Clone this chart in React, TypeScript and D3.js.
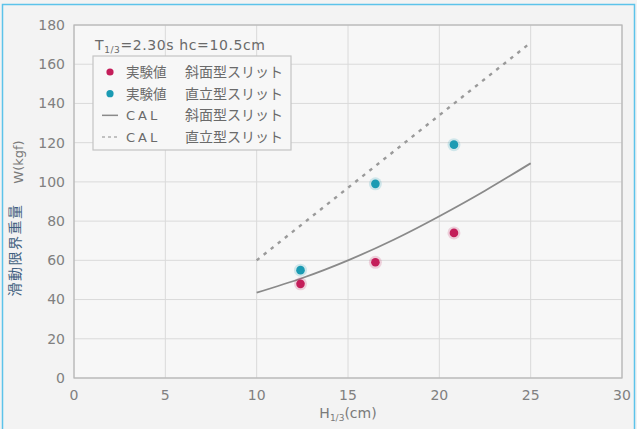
//@ts-nocheck
import React, {useEffect, useRef} from 'react';
import * as d3 from 'd3';

// experiment points (H1/3 cm, W kgf)
const obliqueExp = [
    {h: 12.4, w: 48},
    {h: 16.5, w: 59},
    {h: 20.8, w: 74}
];
const verticalExp = [
    {h: 12.4, w: 55},
    {h: 16.5, w: 99},
    {h: 20.8, w: 119}
];
// calculated curves
const obliqueCal = [
    {h: 10, w: 43.5},
    {h: 12.5, w: 51},
    {h: 15, w: 60},
    {h: 17.5, w: 70.5},
    {h: 20, w: 82.5},
    {h: 22.5, w: 95.5},
    {h: 25, w: 109.5}
];
const verticalCal = [
    {h: 10, w: 60},
    {h: 25, w: 171}
];
const xTicks = [0, 5, 10, 15, 20, 25, 30];
const yTicks = [0, 20, 40, 60, 80, 100, 120, 140, 160, 180];

const RED = '#c41e5a';
const CYAN = '#1b9bb3';
const GRAY = '#8a8a8a';

const App = () => {
    const svgRef = useRef(null);

    useEffect(() => {
        const svg = d3.select(svgRef.current);
        svg.selectAll('*').remove();

        const margin = {top: 25, right: 15, bottom: 51, left: 74};
        const width = 637 - margin.left - margin.right;
        const height = 429 - margin.top - margin.bottom;
        const font = "'DejaVu Sans', sans-serif";
        const jp = "'Noto Sans CJK JP', sans-serif";

        svg.append('rect').attr('width', 637).attr('height', 429).attr('fill', '#f3f3f3');
        // frame
        svg.append('path')
            .attr('d', 'M2.5,429 V4.5 H634.5 V429')
            .attr('fill', 'none')
            .attr('stroke', '#5cc3ea')
            .attr('stroke-width', 1.5);

        const x = d3.scaleLinear().domain([0, 30]).range([0, width]);
        const y = d3.scaleLinear().domain([0, 180]).range([height, 0]);

        const g = svg.append('g')
            .attr('transform', 'translate(' + margin.left + ',' + margin.top + ')');

        g.append('rect').attr('width', width).attr('height', height).attr('fill', '#f7f7f7');

        g.selectAll('line.vgrid')
            .data(xTicks)
            .enter().append('line')
            .attr('class', 'vgrid')
            .attr('x1', d => x(d)).attr('x2', d => x(d))
            .attr('y1', 0).attr('y2', height)
            .attr('stroke', '#dadada');
        g.selectAll('line.hgrid')
            .data(yTicks)
            .enter().append('line')
            .attr('class', 'hgrid')
            .attr('x1', 0).attr('x2', width)
            .attr('y1', d => y(d)).attr('y2', d => y(d))
            .attr('stroke', '#dadada');
        g.append('rect').attr('width', width).attr('height', height)
            .attr('fill', 'none').attr('stroke', '#b5b5b5').attr('stroke-width', 1.2);

        // tick labels
        g.selectAll('text.xt')
            .data(xTicks)
            .enter().append('text')
            .attr('x', d => x(d)).attr('y', height + 22)
            .attr('text-anchor', 'middle')
            .attr('font-family', font).attr('font-size', 14)
            .attr('fill', '#808080')
            .text(d => d);
        g.selectAll('text.yt')
            .data(yTicks)
            .enter().append('text')
            .attr('x', -9).attr('y', d => y(d)).attr('dy', '0.35em')
            .attr('text-anchor', 'end')
            .attr('font-family', font).attr('font-size', 14)
            .attr('fill', '#808080')
            .text(d => d);

        // x axis title
        const xt = g.append('text')
            .attr('x', x(15)).attr('y', height + 40)
            .attr('text-anchor', 'middle')
            .attr('font-family', font).attr('font-size', 14)
            .attr('fill', '#7a7a7a');
        xt.append('tspan').text('H');
        xt.append('tspan').attr('font-size', 9).attr('dy', 3).text('1/3');
        xt.append('tspan').attr('dy', -3).text('(cm)');

        // y axis title
        svg.append('text')
            .attr('transform', 'translate(20,250)rotate(-90)')
            .attr('text-anchor', 'middle')
            .attr('font-family', jp).attr('font-size', 14)
            .attr('letter-spacing', 1.5)
            .attr('fill', '#3f5f80')
            .text('滑動限界重量');
        svg.append('text')
            .attr('transform', 'translate(18,162)rotate(-90)')
            .attr('text-anchor', 'middle')
            .attr('dy', '0.35em')
            .attr('font-family', font).attr('font-size', 13)
            .attr('fill', '#7a7a7a')
            .text('W(kgf)');

        const line = d3.line().x(d => x(d.h)).y(d => y(d.w)).curve(d3.curveNatural);

        g.append('path').datum(obliqueCal)
            .attr('d', line).attr('fill', 'none')
            .attr('stroke', GRAY).attr('stroke-width', 1.8);
        g.append('path').datum(verticalCal)
            .attr('d', line).attr('fill', 'none')
            .attr('stroke', '#9a9a9a').attr('stroke-width', 2.4)
            .attr('stroke-dasharray', '3.5,5.5');

        function dots(data, color) {
            g.selectAll(null)
                .data(data)
                .enter().append('circle')
                .attr('cx', d => x(d.h)).attr('cy', d => y(d.w))
                .attr('r', 6.5).attr('fill', color).attr('opacity', 0.18);
            g.selectAll(null)
                .data(data)
                .enter().append('circle')
                .attr('cx', d => x(d.h)).attr('cy', d => y(d.w))
                .attr('r', 4.3).attr('fill', color);
        }
        dots(obliqueExp, RED);
        dots(verticalExp, CYAN);

        // legend
        const title = svg.append('text')
            .attr('x', 95).attr('y', 50)
            .attr('font-family', font).attr('font-size', 14)
            .attr('letter-spacing', 0.6)
            .attr('fill', '#6a6a6a');
        title.append('tspan').text('T');
        title.append('tspan').attr('font-size', 9).attr('dy', 3).text('1/3');
        title.append('tspan').attr('dy', -3).text('=2.30s hc=10.5cm');

        svg.append('rect')
            .attr('x', 93).attr('y', 56).attr('width', 198).attr('height', 94)
            .attr('fill', '#f7f7f7').attr('stroke', '#c4c4c4').attr('stroke-width', 1.2);

        const rows = [
            {kind: 'dot', color: RED, a: '実験値', b: '斜面型スリット'},
            {kind: 'dot', color: CYAN, a: '実験値', b: '直立型スリット'},
            {kind: 'solid', color: GRAY, a: 'C A L', b: '斜面型スリット'},
            {kind: 'dash', color: '#b0b0b0', a: 'C A L', b: '直立型スリット'}
        ];
        const ly = d3.scalePoint().domain(d3.range(rows.length)).range([72, 137]);
        rows.forEach((r, i) => {
            const yy = ly(i);
            if (r.kind === 'dot') {
                svg.append('circle').attr('cx', 110).attr('cy', yy).attr('r', 3.6).attr('fill', r.color);
            } else {
                svg.append('line')
                    .attr('x1', 102).attr('x2', 118).attr('y1', yy).attr('y2', yy)
                    .attr('stroke', r.color).attr('stroke-width', 1.5)
                    .attr('stroke-dasharray', r.kind === 'dash' ? '3,3' : null);
            }
            svg.append('text')
                .attr('x', 126).attr('y', yy).attr('dy', '0.36em')
                .attr('font-family', r.kind === 'dot' ? jp : font)
                .attr('font-size', r.kind === 'dot' ? 13.5 : 13)
                .attr('letter-spacing', r.kind === 'dot' ? 0 : 3)
                .attr('fill', '#6a6a6a')
                .text(r.kind === 'dot' ? r.a : 'CAL');
            svg.append('text')
                .attr('x', 185).attr('y', yy).attr('dy', '0.36em')
                .attr('font-family', jp).attr('font-size', 14)
                .attr('fill', '#6a6a6a')
                .text(r.b);
        });
    }, []);

    return (
        <svg ref={svgRef} width={637} height={429} style={{position: 'absolute', left: 0, top: 0}}/>
    );
};

export default App;
